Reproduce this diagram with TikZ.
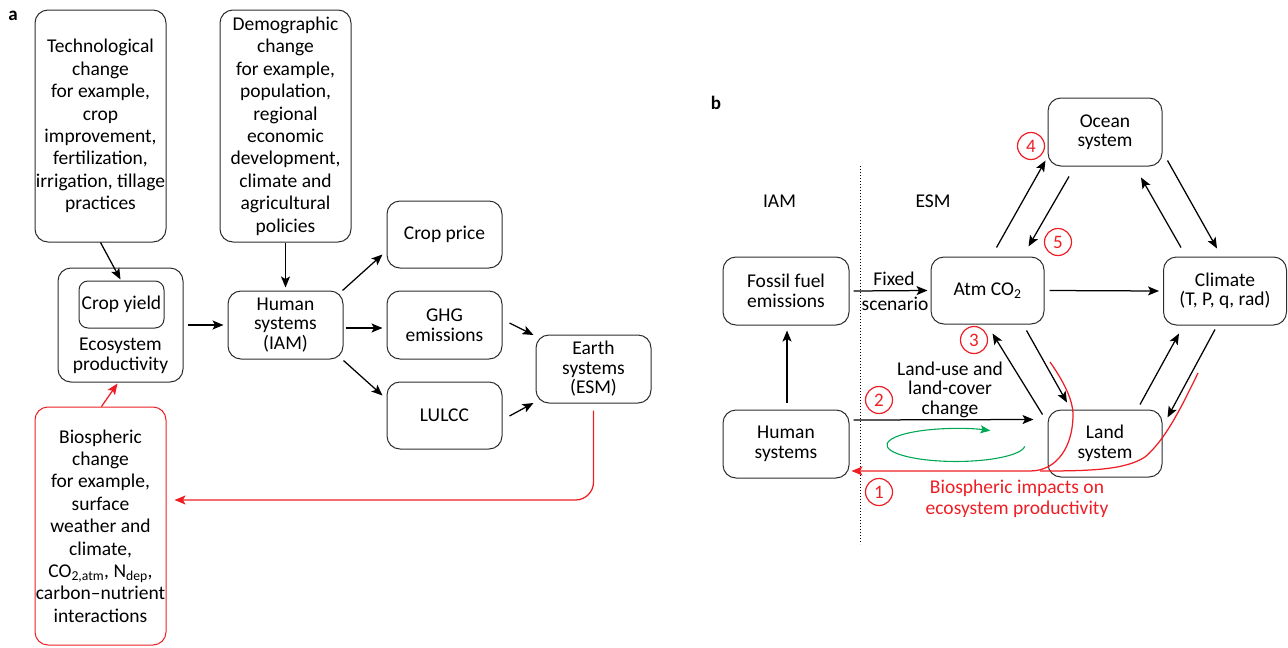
\documentclass[tikz,border=0pt]{standalone}
\usepackage{fontspec}
\setmainfont{Carlito}
\usetikzlibrary{arrows.meta,calc}
\definecolor{rd}{RGB}{238,30,36}
\definecolor{gn}{RGB}{0,168,84}
\definecolor{bx}{RGB}{45,45,45}
\begin{document}
\begin{tikzpicture}[x=1pt,y=-1pt,
  every node/.style={font=\fontsize{19.5}{22.4}\selectfont},
  box/.style={draw=bx, line width=1pt, rounded corners=13pt, align=center, inner sep=0pt},
  rbox/.style={box, draw=rd},
  tight/.style={font=\fontsize{19.5}{19.5}\selectfont},
  arr/.style={draw=black, line width=1.25pt, -{Stealth[length=11pt,width=9pt,inset=2.5pt]}},
  rarr/.style={draw=rd, line width=1.25pt, -{Stealth[length=11pt,width=9pt,inset=2.5pt]}},
  rline/.style={draw=rd, line width=1.25pt},
  num/.style={draw=rd, circle, line width=1.2pt, minimum size=27pt, inner sep=0pt, text=rd, font=\fontsize{19}{20}\selectfont},
  lbl/.style={font=\bfseries\fontsize{19}{20}\selectfont}]
\useasboundingbox (0,0) rectangle (1288,648);

% ---------------- panel a ----------------
\node[lbl] (la) at (13,16) {a};
\node[box, minimum width=131pt, minimum height=232pt] (tech) at (100.5,126)
  {Technological\\change\\for example,\\crop\\improvement,\\fertilization,\\irrigation, tillage\\practices};
\node[box, minimum width=131pt, minimum height=232pt] (demo) at (285.5,126)
  {Demographic\\change\\for example,\\population,\\regional\\economic\\development,\\climate and\\agricultural\\policies};
\node[box, minimum width=125pt, minimum height=114pt] (eco) at (120.5,325) {};
\node[box, minimum width=85pt, minimum height=47pt, rounded corners=9pt] (crop) at (121.5,304.5) {Crop yield};
\node[tight, align=center] (ecot) at (120.5,356) {Ecosystem\\productivity};
\node[box, tight, minimum width=115pt, minimum height=68pt] (human) at (285.5,325) {Human\\systems\\(IAM)};
\node[box, minimum width=115pt, minimum height=67pt] (cprice) at (444.5,234.5) {Crop price};
\node[box, tight, minimum width=115pt, minimum height=68pt] (ghg) at (444.5,325) {GHG\\emissions};
\node[box, minimum width=115pt, minimum height=67pt] (lulcc) at (444.5,415.5) {LULCC};
\node[box, tight, minimum width=115pt, minimum height=68pt] (esm) at (593.5,369) {Earth\\systems\\(ESM)};
\node[rbox, minimum width=131pt, minimum height=238pt] (bio) at (100.5,526)
  {Biospheric\\change\\for example,\\surface\\weather and\\climate,\\CO\textsubscript{2,atm}, N\textsubscript{dep},\\carbon\textendash nutrient\\interactions};

\draw[arr] (tech.south) -- ($(crop.north)+(-1,-1)$);
\draw[arr] (demo.south) -- ($(human.north)+(0,-3)$);
\draw[arr] ($(eco.east)+(4,0)$) -- ($(human.west)+(-4,0)$);
\draw[arr] ($(human.north east)+(-1,0)$) -- ($(cprice.west)+(-4,20)$);
\draw[arr] ($(human.east)+(2,3)$) -- ($(ghg.west)+(-4,3)$);
\draw[arr] ($(human.south east)+(0,1)$) -- ($(lulcc.west)+(-4,-20)$);
\draw[arr] ($(ghg.east)+(7,-2)$) -- ($(esm.west)+(-2,-34)$);
\draw[arr] ($(lulcc.east)+(7,0.5)$) -- ($(esm.west)+(-2,34)$);
\draw[rarr] ($(bio.north)+(1,0)$) -- ($(eco.south)+(-3,1)$);
\draw[rarr, rounded corners=18pt] ($(esm.south)+(0,7)$) |- ($(bio.east)+(8,-26)$);

% ---------------- panel b ----------------
\node[lbl] (lb) at (716,103) {b};
\coordinate (dtop) at (860,166);
\coordinate (dbot) at (860,544);
\draw[line width=1pt, dash pattern=on 1.3pt off 1.7pt] (dtop) -- (dbot);
\node (iam) at (779.5,201) {IAM};
\node (esml) at (933,201) {ESM};

\node[box, tight, minimum width=126pt, minimum height=68pt] (fossil) at (786,291) {Fossil fuel\\emissions};
\node[box, minimum width=113pt, minimum height=67pt] (atm) at (987.5,290.5) {Atm CO\textsubscript{2}};
\node[box, tight, minimum width=114pt, minimum height=68pt] (ocean) at (1105,132) {Ocean\\system};
\node[box, tight, minimum width=123pt, minimum height=68pt] (climate) at (1225,291) {Climate\\(T, P, q, rad)};
\node[box, tight, minimum width=114pt, minimum height=67pt] (land) at (1105,443.5) {Land\\system};
\node[box, tight, minimum width=126pt, minimum height=68pt] (hum) at (786,444) {Human\\systems};

\draw[arr] ($(hum.north)+(1,-7)$) -- ($(fossil.south)+(1,5)$);
\draw[arr] ($(fossil.east)+(4,0)$) -- ($(atm.west)+(-3,0)$);
\node (fixed) at (894,279) {Fixed};
\node (scen) at (895,304) {scenario};
\draw[arr] ($(atm.east)+(5,0)$) -- ($(climate.west)+(-4,0)$);
\draw[arr] ($(atm.north)+(9,-9)$) -- ($(ocean.south west)+(-2,-6)$);
\draw[arr] ($(ocean.south)+(-36,10)$) -- ($(atm.north)+(41,-10)$);
\draw[arr] ($(climate.north)+(-44,-9)$) -- ($(ocean.south)+(36,11)$);
\draw[arr] ($(ocean.south east)+(5,-6)$) -- ($(climate.north)+(-8,-8)$);
\draw[arr] ($(land.north west)+(-5,5)$) -- ($(atm.south)+(5,9)$);
\draw[arr] ($(atm.south)+(39,6)$) -- ($(land.north)+(-38,-7)$);
\draw[arr] ($(land.north)+(35,-5)$) -- ($(climate.south)+(-46,8)$);
\draw[arr] ($(climate.south)+(-10,4)$) -- ($(land.north east)+(5,8)$);
\draw[arr] ($(hum.east)+(4,-24)$) -- ($(land.west)+(-14,-24)$);
\node[tight, align=center] (lucc) at (950,389.5) {Land-use and\\land-cover\\change};

% green loop
\coordinate (ellc) at (956,445);
\draw[gn, line width=1.1pt, -{Stealth[length=10pt,width=8pt,inset=2pt]}]
  (1024.7,446.4) arc[start angle=5, end angle=300, x radius=69, y radius=16.5];

% red feedback
\coordinate (ra) at (1050,362);
\coordinate (rb) at (1198,373);
\draw[rline] (rb) .. controls (1180,410) and (1165,440) .. (1145,457)
  .. controls (1125,470) and (1090,471) .. (1040,471);
\draw[rarr] (ra) .. controls (1064,382) and (1073,400) .. (1073,415)
  .. controls (1073,445) and (1058,471) .. (1030,471) -- ($(hum.east)+(2,27)$);
\node[rd, text=rd, align=center, font=\fontsize{19.5}{21.5}\selectfont] (bioimp) at (1017,499)
  {Biospheric impacts on\\ecosystem productivity};

\node[num] (n1) at (879,492) {1};
\node[num] (n2) at (879,400) {2};
\node[num] (n3) at (974,340) {3};
\node[num] (n4) at (1031,146) {4};
\node[num] (n5) at (1058,242) {5};
\end{tikzpicture}
\end{document}
